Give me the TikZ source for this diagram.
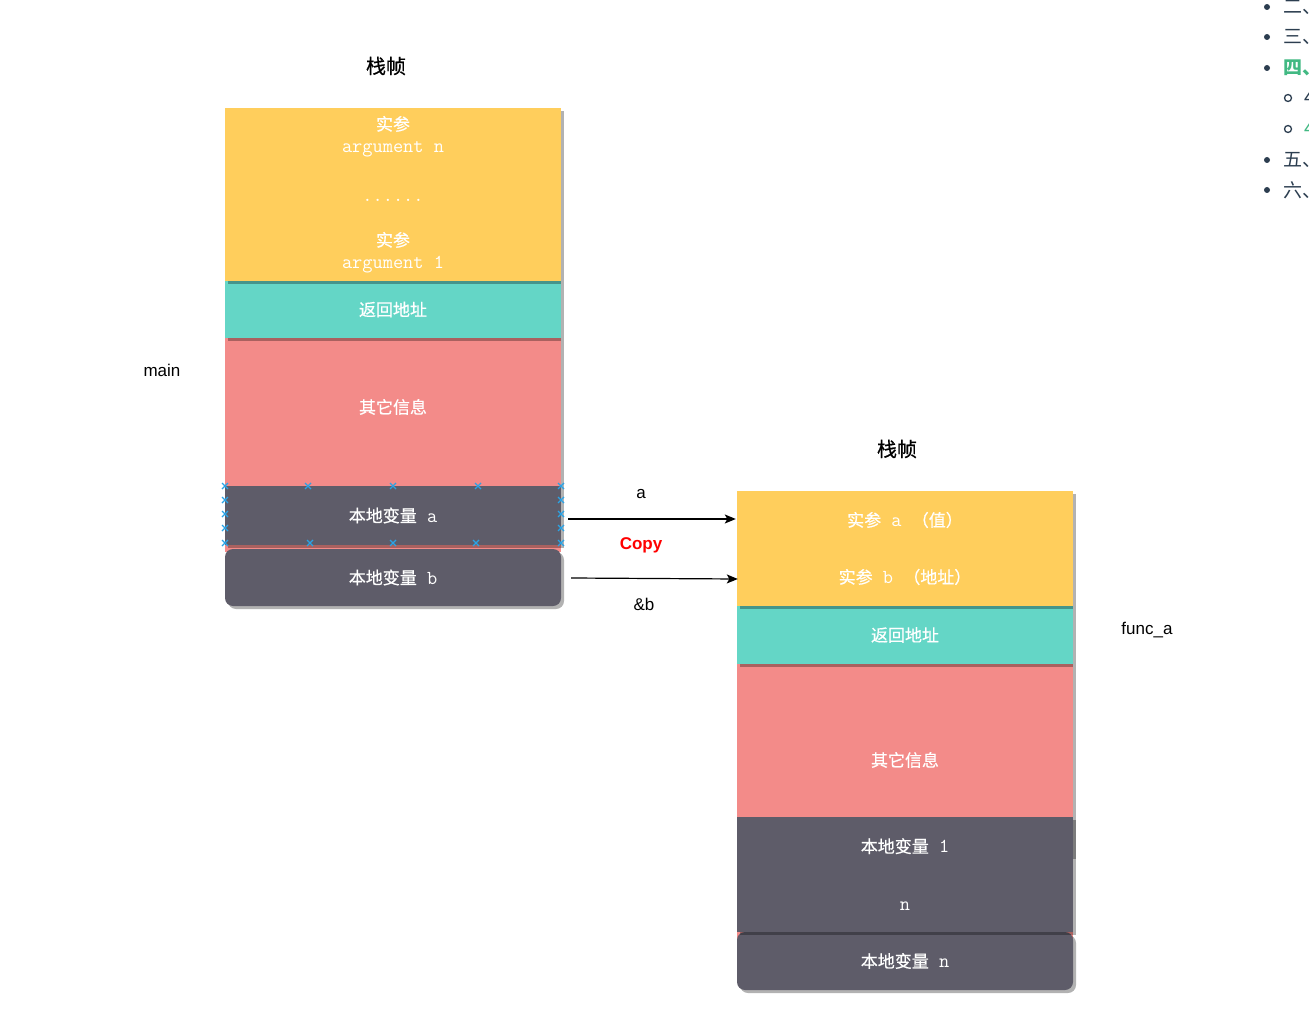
\documentclass[tikz,border=0pt]{standalone}
\usepackage{fontspec}
\setmainfont{Noto Sans CJK SC}
\newfontfamily\latin{Liberation Sans}
\newfontfamily\zhmed{Noto Sans CJK SC}[FakeBold=0.6]
\newcommand{\mono}{\ttfamily\fontsize{19.8}{22}\selectfont}
\usetikzlibrary{arrows.meta,shadows}
\definecolor{ArgYellow}{HTML}{FFCE5C}
\definecolor{RetTeal}{HTML}{64D6C6}
\definecolor{InfoRed}{HTML}{F38B89}
\definecolor{LocalGray}{HTML}{5E5C69}
\definecolor{SelBlue}{HTML}{2AA3E6}
\definecolor{TocGreen}{HTML}{42B983}
\definecolor{TocGray}{HTML}{2C3E50}
\newcommand{\nudge}[2]{\raisebox{#1}[\height][\depth]{#2}}

\begin{document}
\begin{tikzpicture}[x=1pt, y=-1pt,
          blk/.style={rectangle, minimum width=336pt, inner sep=0pt, text=white, align=center, font=\zhmed\fontsize{17}{22}\selectfont, drop shadow={shadow xshift=3pt, shadow yshift=-3pt, opacity=0.3, fill=black}},
          lbl/.style={font=\latin\fontsize{17}{20}\selectfont, text=black, inner sep=0pt},
          ttl/.style={font=\zhmed\fontsize{20}{24}\selectfont, text=black, inner sep=0pt},
          toc/.style={font=\fontsize{19}{22}\selectfont, text=TocGray, anchor=west, inner sep=0pt},
          arr/.style={-{Stealth[length=11pt, width=9pt, inset=2.5pt]}, line width=1.2pt},
          sel/.style={SelBlue, line width=1.1pt}
        ]
          \useasboundingbox (0,0) rectangle (1309,1027);
          \clip (0,0) rectangle (1309,1027);

          % main frame
          \node[ttl] (titleL) at (386,66) {栈帧};
          \node[lbl] (mainL) at (162,370) {main};
          \node[blk, fill=InfoRed, minimum height=148pt] (infoL) at (393,412) {\nudge{5pt}{其它信息}};
          \fill[InfoRed] (225,540) rectangle (561,552);
          \node[blk, fill=LocalGray, minimum height=57pt, rounded corners=8pt] (locB) at (393,577.5) {本地变量{\mono\ b}};
          \node[blk, fill=LocalGray, minimum height=59pt] (locA) at (393,515.5) {本地变量{\mono\ a}};
          \node[blk, fill=RetTeal, minimum height=57pt] (retL) at (393,309.5) {返回地址};
          \node[blk, fill=ArgYellow, minimum height=173pt] (argsL) at (393,194.5) {实参\\{\mono argument n}\\[27pt]{\mono ......}\\[23pt]实参\\{\mono argument 1}};

          % selection handles
          \foreach \px/\py in {225/486, 308/486, 393/486, 478/486, 561/486, 225/543, 310/543, 393/543, 476/543, 561/543, 225/500, 225/514, 225/528, 561/500, 561/514, 561/528}
            \draw[sel] (\px-3,\py-3) -- (\px+3,\py+3) (\px-3,\py+3) -- (\px+3,\py-3);

          % func_a frame
          \node[ttl] (titleR) at (897,449) {栈帧};
          \node[lbl] (funcR) at (1147,630) {func\_a};
          \fill[InfoRed] (737,900) rectangle (1073,942);
          \node[blk, fill=LocalGray, minimum height=58pt, rounded corners=8pt] (locN) at (905,961) {本地变量{\mono\ n}};
          \node[blk, fill=InfoRed, minimum height=192pt] (infoR) at (905,760) {其它信息};
          \node[blk, fill=LocalGray, minimum height=115pt] (loc1) at (905,874.5) {本地变量{\mono\ 1}\\[36pt]{\mono n}};
          \node[blk, fill=RetTeal, minimum height=58pt] (retR) at (905,635) {返回地址};
          \node[blk, fill=ArgYellow, minimum height=115pt] (argsR) at (905,548.5) {实参{\mono\ a\ }（值）\\[35pt]实参{\mono\ b\ }（地址）};

          % passing the arguments
          \draw[arr] ([xshift=7pt, yshift=-3.5pt]locA.east) -- ([xshift=-1pt, yshift=29.5pt]argsR.west);
          \draw[arr] ([xshift=10pt, yshift=-0.5pt]locB.east) -- ([xshift=1pt, yshift=-30.5pt]argsR.west);
          \node[lbl] (valA) at (641,494) {a};
          \node[lbl, font=\latin\bfseries\fontsize{17}{20}\selectfont, text=red] (copy) at (641,545) {Copy};
          \node[lbl] (refB) at (644,604) {\&b};

          % page outline on the right
          \foreach \py in {7, 37, 68, 160, 190}
            \fill[TocGray] (1267,\py) circle (3pt);
          \foreach \py in {98, 129}
            \draw[TocGray, line width=1.3pt] (1288,\py) circle (3.5pt);
          \node[toc] (toc2) at (1283,7) {二、};
          \node[toc] (toc3) at (1283,37) {三、};
          \node[toc, text=TocGreen, font=\bfseries\fontsize{19}{22}\selectfont] (toc4) at (1283,68) {四、};
          \node[toc] (toc41) at (1304,98) {4.1};
          \node[toc, text=TocGreen] (toc42) at (1304,129) {4.2};
          \node[toc] (toc5) at (1283,160) {五、};
          \node[toc] (toc6) at (1283,190) {六、};
        \end{tikzpicture}
\end{document}
